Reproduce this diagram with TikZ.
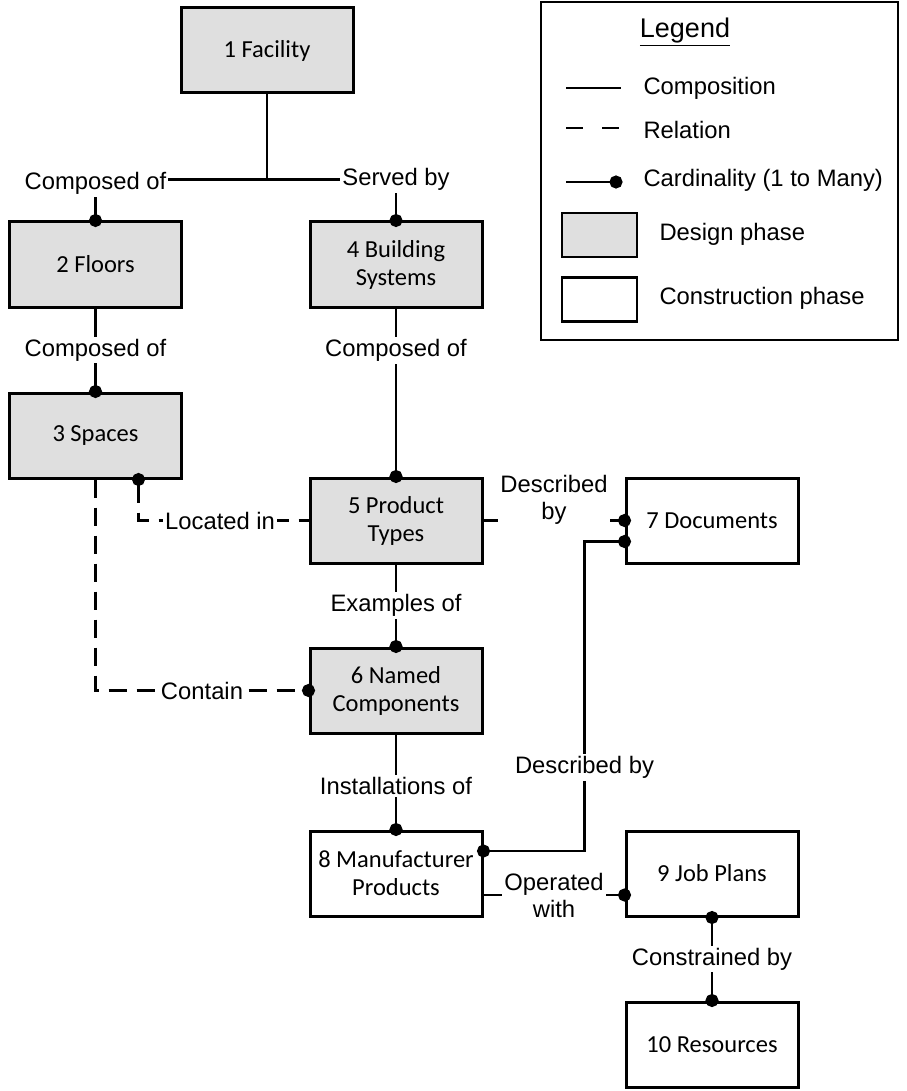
\documentclass[tikz,border=0pt]{standalone}
\usepackage{fontspec}
\setmainfont{Carlito}
\newfontfamily\arialfont{Liberation Sans}
\usetikzlibrary{positioning,arrows.meta}

\newcommand\boxfont{\fontsize{24.5}{28}\selectfont}
\newcommand\lblfont{\arialfont\fontsize{23.8}{27}\selectfont}

\tikzset{
  design/.style={rectangle,draw,fill=gray!25,line width=3pt,minimum width=172pt,minimum height=85pt,align=center,font=\boxfont},
  construction/.style={design,fill=white},
  comp/.style={line width=2.8pt},
  rel/.style={line width=2.8pt,dash pattern=on 18pt off 10pt},
  lbl/.style={fill=white,inner sep=2pt,font=\lblfont,align=center},
  dotend/.style={-{Circle[length=13pt]},shorten >=-6.5pt},
  dotstart/.style={{Circle[length=13pt]}-,shorten <=-6.5pt},
  dotboth/.style={{Circle[length=13pt]}-{Circle[length=13pt]},shorten >=-6.5pt,shorten <=-6.5pt}
}

\begin{document}
\begin{tikzpicture}[x=1pt,y=-1pt]
 \useasboundingbox (0,0) rectangle (906,1091);

 \node[design] (facility) at (267,50.5) {1 Facility};
 \node[design] (floors) at (95.5,264.5) {2 Floors};
 \node[design] (bldgsystems) at (396,264.5) {4 Building\\Systems};
 \node[design] (spaces) [below=83pt of floors] {3 Spaces};
 \node[design] (producttypes) [below=168pt of bldgsystems] {5 Product\\Types};
 \node[design] (namedcomp) [below=82pt of producttypes] {6 Named\\Components};
 \node[construction] (documents) [right=141pt of producttypes] {7 Documents};
 \node[construction] (mfrproducts) [below=95pt of namedcomp] {8 Manufacturer\\Products};
 \node[construction] (jobplans) [right=141pt of mfrproducts] {9 Job Plans};
 \node[construction] (resources) [below=83pt of jobplans] {10 Resources};

% legend
 \node[draw,line width=2pt,minimum width=357pt,minimum height=338pt] (legendbox) at (719.5,171) {};
 \node[font=\arialfont\fontsize{27}{30}\selectfont] (legendtitle) at (685,32) {\underline{Legend}};
 \coordinate (compkey) at (566,88);
 \coordinate (relkey) at (566,128);
 \coordinate (cardkey) at (566,182);
 \draw[comp] (compkey) -- ++(55,0);
 \draw[line width=2.8pt,dash pattern=on 17pt off 19pt] (relkey) -- ++(55,0);
 \draw[comp,dotend] (cardkey) -- ++(50,0);
 \node[font=\lblfont,anchor=west] (complbl) at (640,88) {Composition};
 \node[font=\lblfont,anchor=west] (rellbl) at (640,130) {Relation};
 \node[font=\lblfont,anchor=west] (cardlbl) at (640,180) {Cardinality (1 to Many)};
 \node[design,minimum width=75pt,minimum height=44pt,line width=2.4pt] (designkey) at (599.5,235) {};
 \node[construction,minimum width=75pt,minimum height=44pt,line width=2.4pt] (constrkey) at (599.5,299.5) {};
 \node[font=\lblfont,anchor=west] (designlbl) at (656,234) {Design phase};
 \node[font=\lblfont,anchor=west] (constrlbl) at (656,298) {Construction phase};

% composition
\draw[comp,dotend] (facility.south) -- ++(0,85) -| node[lbl,yshift=-4pt]{Composed of} (floors.north);
\draw[comp,dotend] (facility.south) -- ++(0,85) -| node[lbl]{Served by} (bldgsystems.north);
\draw[comp,dotend] (floors.south) -- node[lbl]{Composed of} (spaces.north);
\draw[comp,dotend] (bldgsystems.south) -- node[lbl,pos=0.25]{Composed of} (producttypes.north);
\draw[comp,dotend] (producttypes.south) -- node[lbl]{Examples of} (namedcomp.north);
\draw[comp,dotend] (namedcomp.south) -- node[lbl,yshift=-4pt]{Installations of} (mfrproducts.north);
\draw[comp,dotend] (producttypes.east) -- node[lbl,yshift=21pt]{Described\\by} (documents.west);
\draw[comp,dotboth] ([yshift=22.5pt]mfrproducts.east) -- ++(101,0) |- node[lbl,pos=0.135]{Described by} ([yshift=-21pt]documents.west);
\draw[comp,dotend] ([yshift=-21.5pt]mfrproducts.east) -- node[lbl]{Operated\\with} ([yshift=-21.5pt]jobplans.west);
\draw[comp,dotboth] (jobplans.south) -- node[lbl]{Constrained by} (resources.north);

% relations
\draw[rel,dotstart] ([xshift=43pt]spaces.south) |- node[lbl,pos=0.74]{Located in} (producttypes.west);
\draw[rel,dotend] (spaces.south) |- node[lbl,pos=0.75]{Contain} (namedcomp.west);
\end{tikzpicture}
\end{document}
